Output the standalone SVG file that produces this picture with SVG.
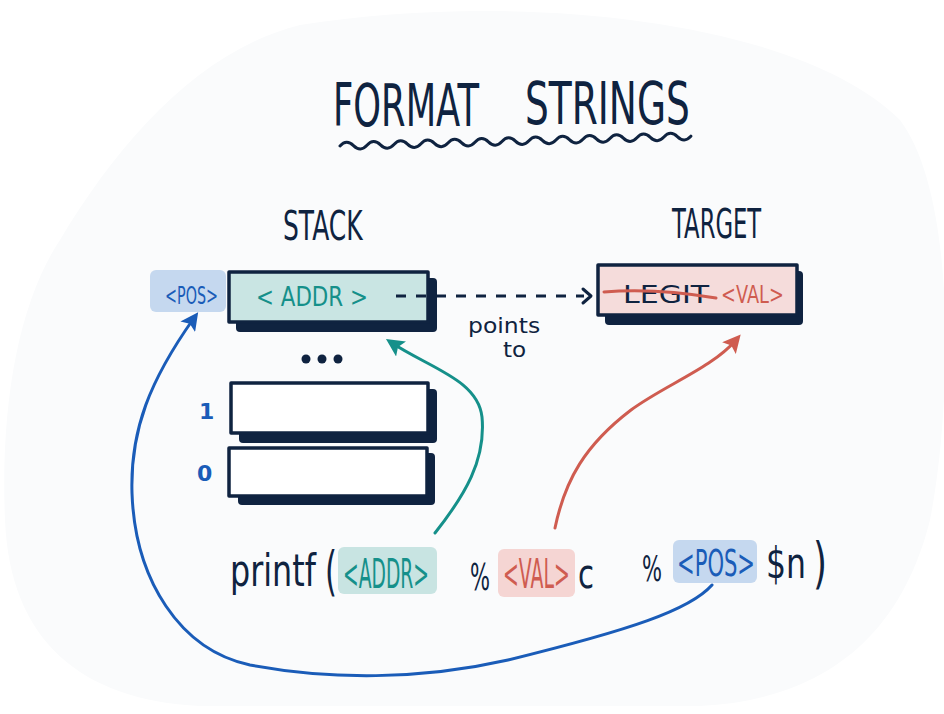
<svg xmlns="http://www.w3.org/2000/svg" width="944" height="714" viewBox="0 0 944 714">
<defs>
<style>
.t{font-family:"DejaVu Sans","Liberation Sans",sans-serif;}
.dk{fill:#0f2340;}
.teal{fill:#15908a;}
.red{fill:#cf5c50;}
.blue{fill:#1a5cb8;}
.box{stroke:#0f2340;stroke-width:3.5;stroke-linejoin:round;}
.shadow{fill:#0f2340;}
.conn{fill:none;stroke-width:3;stroke-linecap:round;}
</style>
<marker id="aTeal" viewBox="0 0 10 10" refX="6" refY="5" markerWidth="6" markerHeight="6" orient="auto" markerUnits="strokeWidth"><path d="M0,0 L10,5 L0,10 L2,5 Z" fill="#15908a"/></marker>
<marker id="aRed" viewBox="0 0 10 10" refX="6" refY="5" markerWidth="6" markerHeight="6" orient="auto" markerUnits="strokeWidth"><path d="M0,0 L10,5 L0,10 L2,5 Z" fill="#cf5c50"/></marker>
<marker id="aBlue" viewBox="0 0 10 10" refX="6" refY="5" markerWidth="6" markerHeight="6" orient="auto" markerUnits="strokeWidth"><path d="M0,0 L10,5 L0,10 L2,5 Z" fill="#1a5cb8"/></marker>
</defs>
<rect width="944" height="714" fill="#ffffff"/>
<path d="M300,25 C520,-10 800,20 900,120 C960,200 950,420 930,520 C900,640 820,700 700,706 L200,706 C80,700 10,640 5,520 C0,400 20,300 60,240 C120,140 200,50 300,25 Z" fill="#fafbfc"/>

<g id="title">
<text class="t dk" transform="translate(333,126) scale(0.609,1)" font-size="58">FORMAT</text>
<text class="t dk" transform="translate(525,124) scale(0.647,1)" font-size="58">STRINGS</text>
<path transform="rotate(-1.6 340 146)" d="M340,146 q6.75,-7 13.5,0 t13.5,0 t13.5,0 t13.5,0 t13.5,0 t13.5,0 t13.5,0 t13.5,0 t13.5,0 t13.5,0 t13.5,0 t13.5,0 t13.5,0 t13.5,0 t13.5,0 t13.5,0 t13.5,0 t13.5,0 t13.5,0 t13.5,0 t13.5,0 t13.5,0 t13.5,0 t13.5,0 t13.5,0 t13.5,0" fill="none" stroke="#0f2340" stroke-width="3" stroke-linecap="round"/>
</g>

<g id="stack-label"><text class="t dk" transform="translate(283,240) scale(0.624,1)" font-size="40">STACK</text></g>
<g id="target-label"><text class="t dk" transform="translate(672,238) scale(0.568,1)" font-size="40">TARGET</text></g>

<g id="pos-tag">
<rect x="150" y="270" width="76" height="42" rx="6" fill="#c5d8ef"/>
<text class="t blue" transform="translate(165,304) scale(0.597,1)" font-size="24">&lt;POS&gt;</text>
</g>

<g id="addr-slot">
<rect class="shadow" x="236" y="278" width="201" height="54" rx="4"/>
<rect class="box" x="229" y="272" width="199" height="50" fill="#c9e5e3"/>
<text class="t teal" transform="translate(256,306) scale(0.793,1)" font-size="27">&lt; ADDR &gt;</text>
</g>

<g id="dots">
<circle class="dk" cx="306" cy="359" r="4.5"/>
<circle class="dk" cx="322" cy="359" r="4.5"/>
<circle class="dk" cx="338" cy="359" r="4.5"/>
</g>

<g id="slot-1">
<rect class="shadow" x="239" y="389" width="198" height="54" rx="4"/>
<rect class="box" x="231" y="383" width="197" height="50" fill="#ffffff"/>
<text class="t blue" x="199" y="419" font-size="22" font-weight="bold">1</text>
</g>

<g id="slot-0">
<rect class="shadow" x="238" y="453" width="197" height="52" rx="4"/>
<rect class="box" x="229" y="448" width="198" height="48" fill="#ffffff"/>
<text class="t blue" x="197" y="481" font-size="22" font-weight="bold">0</text>
</g>

<g id="target-box">
<rect class="shadow" x="605" y="271" width="198" height="54" rx="4"/>
<rect class="box" x="598" y="265" width="199" height="50" fill="#f5dcdb"/>
<text class="t dk" transform="translate(623,303) scale(1.2,1)" font-size="25">LEGIT</text>
<path d="M604,292 C640,289 680,292 716,298" fill="none" stroke="#cf5c50" stroke-width="3" stroke-linecap="round"/>
<text class="t red" transform="translate(721,303) scale(0.711,1)" font-size="25">&lt;VAL&gt;</text>
</g>

<g id="points-to-label">
<text class="t dk" transform="translate(468,333) scale(1.12,1)" font-size="21">points</text>
<text class="t dk" transform="translate(503,357) scale(1.1,1)" font-size="21">to</text>
</g>

<g id="printf-call">
<text class="t dk" transform="translate(230,586) scale(0.723,1)" font-size="44">printf</text>
<text class="t dk" transform="translate(325,590) scale(0.57,1)" font-size="54">(</text>
<rect x="338" y="547" width="99" height="47" rx="6" fill="#c8e4e2"/>
<text class="t teal" transform="translate(343,588) scale(0.468,1)" font-size="40">&lt;ADDR&gt;</text>
<text class="t dk" transform="translate(470,590) scale(0.554,1)" font-size="38">%</text>
<rect x="498" y="549" width="77" height="48" rx="6" fill="#f5d5d3"/>
<text class="t red" transform="translate(503,588) scale(0.472,1)" font-size="40">&lt;VAL&gt;</text>
<text class="t dk" transform="translate(578,588) scale(0.727,1)" font-size="40">c</text>
<text class="t dk" transform="translate(642,581) scale(0.585,1)" font-size="36">%</text>
<rect x="673" y="540" width="84" height="43" rx="6" fill="#c5d8ef"/>
<text class="t blue" transform="translate(677,576) scale(0.555,1)" font-size="38">&lt;POS&gt;</text>
<text class="t dk" transform="translate(766,578) scale(0.75,1)" font-size="42">$n</text>
<text class="t dk" transform="translate(813,582) scale(0.64,1)" font-size="56">)</text>
</g>

<g id="connectors">
<path d="M396,296 L584,296" fill="none" stroke="#0f2340" stroke-width="3" stroke-dasharray="10 10"/>
<path d="M583,289 L591,296 L583,303" fill="none" stroke="#0f2340" stroke-width="3" stroke-linecap="round" stroke-linejoin="round"/>
<path class="conn" stroke="#15908a" d="M435,533 C465,495 486,460 482,417 C478,380 430,368 392,343" marker-end="url(#aTeal)"/>
<path class="conn" stroke="#cf5c50" d="M555,528 C565,480 585,445 631,410 C665,385 712,368 736,340" marker-end="url(#aRed)"/>
<path class="conn" stroke="#1a5cb8" d="M712,585 C690,610 630,630 508,660 C420,680 330,680 250,665 C180,650 135,580 132,493 C130,430 150,380 194,318" marker-end="url(#aBlue)"/>
</g>
</svg>
